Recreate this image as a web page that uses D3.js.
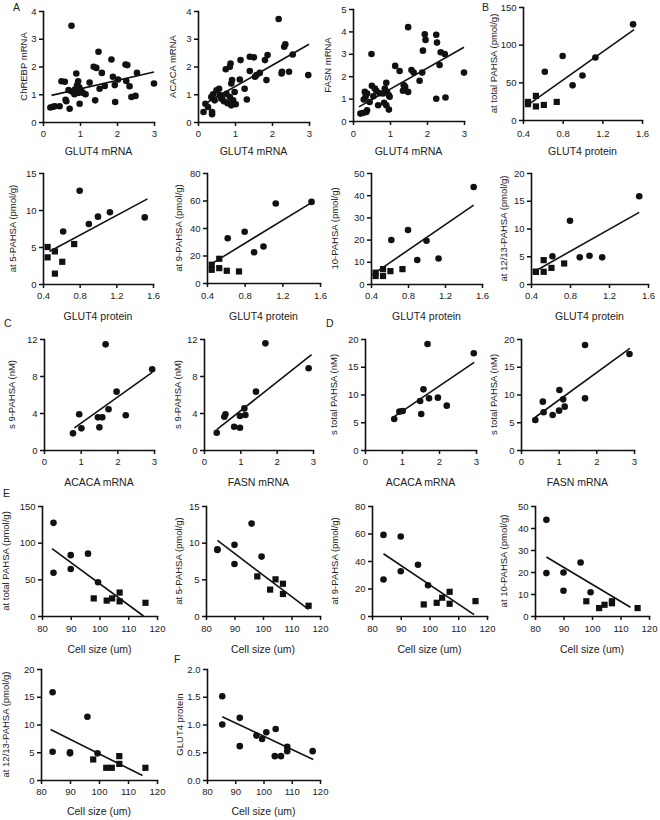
<!DOCTYPE html>
<html><head><meta charset="utf-8">
<script src="https://cdn.jsdelivr.net/npm/d3@7/dist/d3.min.js"></script>
<style>
body{margin:0;background:#fff;}
svg{display:block;font-family:"Liberation Sans",Arial,Helvetica,sans-serif;}
</style>
</head><body>
<svg id="chart" width="660" height="820"></svg>
<script>
// ---------------- DATA ----------------
// Panel A: GLUT4 mRNA vs ChREBP / ACACA / FASN mRNA
const a1GLUT4 = [0.77,1.50,1.85,1.37,1.44,2.23,2.28,0.90,1.59,2.54,1.89,0.50,0.59,0.95,1.26,2.03,2.25,0.92,0.98,0.69,0.78,0.86,1.03,1.08,1.15,1.53,1.67,1.94,2.34,3.00,0.61,0.63,0.99,1.41,1.95,2.39,2.50,0.72,0.20,0.32,0.45,0.85,0.97,0.27];
const a1ChREBP = [3.47,2.53,2.25,1.99,1.95,2.07,2.05,1.75,1.77,1.77,1.63,1.47,1.45,1.47,1.42,1.53,1.48,1.32,1.25,1.15,1.10,1.17,1.12,1.05,1.00,1.20,1.30,1.33,1.29,1.39,0.80,0.75,0.66,0.78,0.72,0.90,0.94,0.48,0.52,0.57,0.57,1.00,1.05,0.55];
const a2GLUT4 = [2.18,2.36,2.33,1.88,1.81,1.40,1.51,1.15,0.88,0.86,0.75,2.56,1.40,1.67,1.58,1.54,1.13,0.92,0.90,2.27,2.26,2.46,2.98,1.85,1.26,0.57,0.50,0.41,0.59,0.99,0.77,0.86,0.95,1.02,0.63,0.70,1.32,0.20,0.27,0.36,0.45,0.15,0.38,0.38,0.66,0.80,0.90];
const a2ACACA = [3.71,2.80,2.71,2.41,2.23,2.35,2.33,2.23,2.11,1.99,1.90,2.43,1.84,1.77,1.69,1.63,1.53,1.51,1.39,1.81,1.75,1.81,1.69,1.51,1.20,1.20,1.14,1.00,0.96,1.08,1.02,0.90,0.78,0.64,0.84,0.75,0.81,0.66,0.54,0.90,0.78,0.36,0.36,0.28,0.95,0.68,0.60];
const a3GLUT4 = [1.49,1.94,1.96,2.25,2.27,1.89,0.50,2.37,2.48,2.34,1.14,1.26,1.58,1.64,1.87,3.00,1.80,1.37,1.41,0.90,0.51,0.59,0.63,0.86,0.92,0.97,0.99,0.32,0.38,0.72,0.81,1.35,1.49,0.34,0.29,0.45,0.68,0.84,0.90,0.97,2.25,2.50,0.38,0.20,0.27,0.36,0.55];
const a3FASN = [4.19,3.87,3.62,3.85,3.50,3.14,2.99,3.07,2.99,2.50,2.46,2.23,2.28,2.16,2.16,2.16,1.80,1.60,1.53,1.71,1.57,1.45,1.35,1.45,1.30,1.15,1.08,1.30,1.23,1.24,1.23,1.35,1.30,1.08,0.96,0.85,0.70,0.81,0.70,0.51,0.99,1.05,0.48,0.33,0.36,0.40,1.10];

// Panels B and E/F: one entry per sample
const sampleShape = ["circle","circle","circle","circle","circle","circle","square","square","square","square","square","square"];
const glut4Protein = [0.62,0.80,0.90,1.00,1.13,1.51,0.45,0.45,0.53,0.53,0.61,0.74];
const cellSize = [90,96,99.5,84,90,84,104.4,102.5,107,116,107,98];
const totalPAHSA = [64,85,46,59,83,127,24,21,32,18,20,24];
const pahsa5 = [7.1,12.6,8.1,9.1,9.7,9.0,5.0,3.6,4.4,1.4,3.0,5.4];
const pahsa9 = [32.5,37.3,22.4,26.5,57.8,59.0,13.3,9.6,17.6,10.8,8.9,8.4];
const pahsa10 = [19.8,24.3,10.8,19.5,11.5,43.7,5.1,3.6,6.7,3.6,5.8,6.7];
const pahsa1213 = [5.0,11.4,4.8,5.1,4.8,15.8,2.2,2.2,4.3,2.2,2.9,3.7];

// Panels C and D: serum PAHSA
const c1ACACA = [0.79,0.96,1.02,1.68,1.47,1.59,1.51,1.76,1.98,2.23,2.95];
const c1S9 = [1.80,3.86,2.34,11.42,3.53,3.53,2.45,4.40,6.31,3.75,8.72];
const c2FASN = [0.35,0.56,0.59,0.83,0.99,0.99,1.11,1.14,1.43,1.69,2.88];
const c2S9 = [1.87,3.60,3.86,2.52,2.41,3.68,4.50,3.78,6.31,11.53,8.83];
const d1ACACA = [0.79,0.93,1.02,1.69,1.58,1.49,1.52,1.73,1.97,2.21,2.94];
const d1Total = [5.59,6.91,7.03,19.1,10.93,8.83,6.49,9.31,9.43,7.99,17.42];
const d2FASN = [0.38,0.58,0.60,0.84,1.01,1.02,1.12,1.16,1.70,1.70,2.88];
const d2Total = [5.41,8.71,6.79,6.31,7.09,10.81,9.13,7.81,18.92,9.31,17.3];

// Panel F
const fCellSize = [85.4,85.4,91.6,91.6,97.5,99.5,101,104.3,104,106.2,108.4,108.4,117.4];
const fGLUT4 = [1.51,1.00,1.12,0.61,0.80,0.74,0.86,0.92,0.43,0.43,0.60,0.52,0.52];

// Regression lines [x0, y0, x1, y1]
const fitA1 = [0.23,0.96,3.0,1.80];
const fitA2 = [0.27,0.72,3.0,2.80];
const fitA3 = [0.16,0.63,3.0,3.29];
const fitBTotal = [0.46,21,1.52,120];
const fitB5 = [0.47,4.4,1.54,11.5];
const fitB9 = [0.46,14.5,1.51,58.5];
const fitB10 = [0.46,5.5,1.51,35.5];
const fitB1213 = [0.45,2.4,1.51,12.9];
const fitC1 = [0.83,2.4,2.95,8.4];
const fitC2 = [0.35,2.2,2.96,10.3];
const fitD1 = [0.79,6.0,2.95,15.8];
const fitD2 = [0.38,5.9,2.89,18.3];
const fitETotal = [83.5,92,115.3,0];
const fitE5 = [84,10.3,116,0.9];
const fitE9 = [84,45.3,115.5,1];
const fitE10 = [84,26.8,113.5,4];
const fitE1213 = [83.3,9.1,115,0.8];
const fitF = [85.4,1.14,117.6,0.37];

// Tick values
const ticksMRNA = [0,1,2,3];
const ticksProtein = [0.4,0.8,1.2,1.6];
const ticksCell = [80,90,100,110,120];

// ---------------- LAYOUT ----------------
const panels = [
 {xs:a1GLUT4, ys:a1ChREBP, xDom:[0,3], xT:ticksMRNA, yDom:[0,4], yT:[0,1,2,3,4], xTitle:"GLUT4 mRNA", yTitle:"ChREBP mRNA", fit:fitA1, box:[43,154,11,122], ylx:23, tickY:137, titleY:155},
 {xs:a2GLUT4, ys:a2ACACA, xDom:[0,3], xT:ticksMRNA, yDom:[0,4], yT:[0,1,2,3,4], xTitle:"GLUT4 mRNA", yTitle:"ACACA mRNA", fit:fitA2, box:[198,309,11,122], ylx:172, tickY:137, titleY:155},
 {xs:a3GLUT4, ys:a3FASN, xDom:[0,3], xT:ticksMRNA, yDom:[0,5], yT:[0,1,2,3,4,5], xTitle:"GLUT4 mRNA", yTitle:"FASN mRNA", fit:fitA3, box:[353,464,9,121], ylx:327, tickY:137, titleY:155},
 {xs:glut4Protein, ys:totalPAHSA, shapes:sampleShape, xDom:[0.4,1.6], xT:ticksProtein, xF:".1f", yDom:[0,150], yT:[0,50,100,150], xTitle:"GLUT4 protein", yTitle:"at total PAHSA (pmol/g)", fit:fitBTotal, box:[523,642,7,120], ylx:493, tickY:137, titleY:155},

 {xs:glut4Protein, ys:pahsa5, shapes:sampleShape, xDom:[0.4,1.6], xT:ticksProtein, xF:".1f", yDom:[0,15], yT:[0,5,10,15], xTitle:"GLUT4 protein", yTitle:"at 5-PAHSA (pmol/g)", fit:fitB5, box:[43,153,173,284], ylx:12, tickY:299, titleY:320},
 {xs:glut4Protein, ys:pahsa9, shapes:sampleShape, xDom:[0.4,1.6], xT:ticksProtein, xF:".1f", yDom:[0,80], yT:[0,20,40,60,80], xTitle:"GLUT4 protein", yTitle:"at 9-PAHSA (pmol/g)", fit:fitB9, box:[207,320,173,283], ylx:178, tickY:299, titleY:320},
 {xs:glut4Protein, ys:pahsa10, shapes:sampleShape, xDom:[0.4,1.6], xT:ticksProtein, xF:".1f", yDom:[0,50], yT:[0,10,20,30,40,50], xTitle:"GLUT4 protein", yTitle:"10-PAHSA (pmol/g)", fit:fitB10, box:[371,482,173,284], ylx:334, tickY:299, titleY:320},
 {xs:glut4Protein, ys:pahsa1213, shapes:sampleShape, xDom:[0.4,1.6], xT:ticksProtein, xF:".1f", yDom:[0,20], yT:[0,5,10,15,20], xTitle:"GLUT4 protein", yTitle:"at 12/13-PAHSA (pmol/g)", fit:fitB1213, box:[531,648,173,284], ylx:503, tickY:299, titleY:320},

 {xs:c1ACACA, ys:c1S9, xDom:[0,3], xT:ticksMRNA, yDom:[0,12], yT:[0,4,8,12], xTitle:"ACACA mRNA", yTitle:"s 9-PAHSA (nM)", fit:fitC1, box:[44,154,339,450], ylx:11, tickY:465, titleY:486},
 {xs:c2FASN, ys:c2S9, xDom:[0,3], xT:ticksMRNA, yDom:[0,12], yT:[0,4,8,12], xTitle:"FASN mRNA", yTitle:"s 9-PAHSA (nM)", fit:fitC2, box:[204,313,339,450], ylx:177, tickY:465, titleY:486},
 {xs:d1ACACA, ys:d1Total, xDom:[0,3], xT:ticksMRNA, yDom:[0,20], yT:[0,5,10,15,20], xTitle:"ACACA mRNA", yTitle:"s total PAHSA (nM)", fit:fitD1, box:[365,476,339,450], ylx:333, tickY:465, titleY:486},
 {xs:d2FASN, ys:d2Total, xDom:[0,3], xT:ticksMRNA, yDom:[0,20], yT:[0,5,10,15,20], xTitle:"FASN mRNA", yTitle:"s total PAHSA (nM)", fit:fitD2, box:[521,634,339,450], ylx:493, tickY:465, titleY:486},

 {xs:cellSize, ys:totalPAHSA, shapes:sampleShape, xDom:[80,120], xT:ticksCell, yDom:[0,150], yT:[0,50,100,150], xTitle:"Cell size (um)", yTitle:"at total PAHSA (pmol/g)", fit:fitETotal, box:[42,157,506,616], ylx:5, tickY:632, titleY:653},
 {xs:cellSize, ys:pahsa5, shapes:sampleShape, xDom:[80,120], xT:ticksCell, yDom:[0,15], yT:[0,5,10,15], xTitle:"Cell size (um)", yTitle:"at 5-PAHSA (pmol/g)", fit:fitE5, box:[206,320,506,616], ylx:178, tickY:632, titleY:653},
 {xs:cellSize, ys:pahsa9, shapes:sampleShape, xDom:[80,120], xT:ticksCell, yDom:[0,80], yT:[0,20,40,60,80], xTitle:"Cell size (um)", yTitle:"at 9-PAHSA (pmol/g)", fit:fitE9, box:[372,487,506,616], ylx:334, tickY:632, titleY:653},
 {xs:cellSize, ys:pahsa10, shapes:sampleShape, xDom:[80,120], xT:ticksCell, yDom:[0,50], yT:[0,10,20,30,40,50], xTitle:"Cell size (um)", yTitle:"at 10-PAHSA (pmol/g)", fit:fitE10, box:[535,649,506,616], ylx:503, tickY:632, titleY:653},

 {xs:cellSize, ys:pahsa1213, shapes:sampleShape, xDom:[80,120], xT:ticksCell, yDom:[0,20], yT:[0,5,10,15,20], xTitle:"Cell size (um)", yTitle:"at 12/13-PAHSA (pmol/g)", fit:fitE1213, box:[41,157,669,780], ylx:5, tickY:795, titleY:815},
 {xs:fCellSize, ys:fGLUT4, xDom:[80,120], xT:ticksCell, yDom:[0,2], yT:[0,0.5,1.0,1.5,2.0], yF:".1f", xTitle:"Cell size (um)", yTitle:"GLUT4 protein", fit:fitF, box:[207,320,669,780], ylx:179, tickY:795, titleY:815}
];

const panelLetters = [
 {t:"A", x:13, y:11}, {t:"B", x:482, y:11}, {t:"C", x:4, y:327},
 {t:"D", x:326, y:327}, {t:"E", x:3, y:497}, {t:"F", x:174, y:663}
];

// ---------------- DRAW ----------------
const svg = d3.select("#chart");
const INK = "#111";
const TICK_FS = 9.5, XT_FS = 10.5, YT_FS = 9.5;

function drawPanel(p){
  const [x0,x1,yTop,yBot] = p.box;
  const x = d3.scaleLinear().domain(p.xDom).range([x0,x1]);
  const y = d3.scaleLinear().domain(p.yDom).range([yBot,yTop]);
  const g = svg.append("g");

  const xa = g.append("g").attr("transform",`translate(0,${yBot})`)
    .call(d3.axisBottom(x).tickValues(p.xT).tickSize(4).tickSizeOuter(0)
      .tickFormat(p.xF ? d3.format(p.xF) : d3.format("d")));
  xa.selectAll("text").attr("y", p.tickY - yBot).attr("dy", 0);

  const ya = g.append("g").attr("transform",`translate(${x0},0)`)
    .call(d3.axisLeft(y).tickValues(p.yT).tickSize(4).tickSizeOuter(0).tickPadding(2.5)
      .tickFormat(p.yF ? d3.format(p.yF) : d3.format("d")));

  [xa,ya].forEach(a=>{
    a.attr("font-family",null).attr("font-size",null);
    a.select(".domain").attr("stroke",INK).attr("stroke-width",1.6).attr("stroke-linecap","square");
    a.selectAll(".tick line").attr("stroke",INK).attr("stroke-width",1.5);
    a.selectAll("text").attr("fill","#222").style("font-size",TICK_FS+"px");
  });

  // fit line
  const f = p.fit;
  g.append("path")
    .datum([[f[0],f[1]],[f[2],f[3]]])
    .attr("d", d3.line().x(d=>x(d[0])).y(d=>y(d[1])))
    .attr("stroke",INK).attr("stroke-width",1.6).attr("fill","none");

  // points
  const pts = p.xs.map((v,i)=>({x:v, y:p.ys[i], s:p.shapes ? p.shapes[i] : "circle"}));
  g.selectAll("circle.pt").data(pts.filter(d=>d.s==="circle")).join("circle")
    .attr("class","pt").attr("cx",d=>x(d.x)).attr("cy",d=>y(d.y)).attr("r",3.3).attr("fill",INK);
  const sq = 6.2;
  g.selectAll("rect.pt").data(pts.filter(d=>d.s==="square")).join("rect")
    .attr("class","pt").attr("x",d=>x(d.x)-sq/2).attr("y",d=>y(d.y)-sq/2)
    .attr("width",sq).attr("height",sq).attr("fill",INK);

  // titles
  g.append("text").attr("x",(x0+x1)/2).attr("y",p.titleY).attr("text-anchor","middle")
    .style("font-size",XT_FS+"px").attr("fill","#222").text(p.xTitle);
  g.append("text").attr("transform",`translate(${p.ylx},${(yTop+yBot)/2}) rotate(-90)`)
    .attr("text-anchor","middle").attr("dominant-baseline","central")
    .style("font-size",YT_FS+"px").attr("fill","#222").text(p.yTitle);
}

panels.forEach(drawPanel);

svg.selectAll("text.letter").data(panelLetters).join("text").attr("class","letter")
  .attr("x",d=>d.x).attr("y",d=>d.y).style("font-size","10.5px").attr("fill","#222").text(d=>d.t);
</script>
</body></html>
